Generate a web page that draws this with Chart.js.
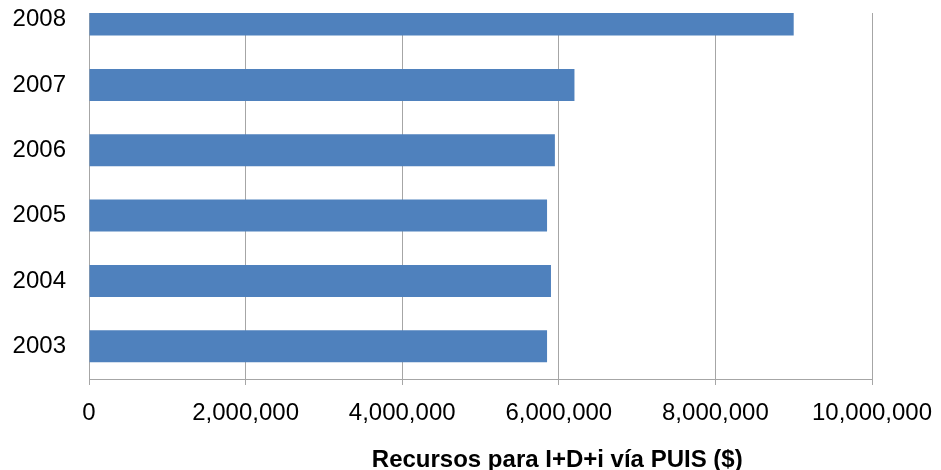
<!DOCTYPE html>
<html>
<head>
<meta charset="utf-8">
<title>Recursos para I+D+i vía PUIS</title>
<script src="https://cdn.jsdelivr.net/npm/chart.js@4/dist/chart.umd.min.js"></script>
<style>
  html, body { margin: 0; padding: 0; background: #fff; }
  #wrap { width: 941px; height: 470px; }
</style>
</head>
<body>
<div id="wrap"><canvas id="chart" width="941" height="470"></canvas></div>
<script>
// datos (de abajo hacia arriba)
const years = ['2003', '2004', '2005', '2006', '2007', '2008'];
const recursos = [5850000, 5900000, 5850000, 5950000, 6200000, 9000000];

const xMin = 0;
const xMax = 10000000;
const xStep = 2000000;
const axisTitle = 'Recursos para I+D+i vía PUIS ($)';

const COLORS = {
    bar: '#4f81bd',
    grid: '#a6a6a6',
    text: '#000000'
};

const FONT = "'Liberation Sans', Arial, sans-serif";

// el titulo del eje no esta centrado en el original, se dibuja aparte
const axisTitlePlugin = {
    id: 'axisTitle',
    afterDraw(chart) {
        const { ctx, chartArea } = chart;
        ctx.save();
        ctx.font = "bold 24px " + FONT;
        ctx.fillStyle = COLORS.text;
        ctx.textAlign = 'center';
        ctx.textBaseline = 'middle';
        ctx.fillText(axisTitle, chartArea.left + 0.598 * (chartArea.right - chartArea.left), 460);
        ctx.restore();
    }
};

new Chart(document.getElementById('chart'), {
    type: 'bar',
    data: {
        datasets: [{
            data: recursos.map((v, i) => ({ x: v, y: i })),
            backgroundColor: COLORS.bar,
            borderWidth: 0,
            barPercentage: 0.49,
            categoryPercentage: 1
        }]
    },
    plugins: [axisTitlePlugin],
    options: {
        indexAxis: 'y',
        responsive: false,
        animation: false,
        layout: { padding: { top: 13, right: 69, left: 11, bottom: 0 } },
        plugins: {
            legend: { display: false },
            tooltip: { enabled: false }
        },
        scales: {
            x: {
                type: 'linear',
                min: xMin,
                max: xMax,
                grid: { color: COLORS.grid, tickLength: 6 },
                border: { color: COLORS.grid },
                ticks: {
                    stepSize: xStep,
                    padding: 14,
                    color: COLORS.text,
                    font: { family: FONT, size: 24 },
                    callback: v => v.toLocaleString('en-US')
                },
                afterFit: s => { s.height = 91; s.paddingLeft = 0; s.paddingRight = 0; }
            },
            y: {
                type: 'linear',
                min: -0.5,
                max: 5.1,
                offset: false,
                grid: { display: false, drawTicks: false, offset: false },
                border: { display: true, color: COLORS.grid },
                ticks: {
                    stepSize: 1,
                    includeBounds: false,
                    padding: 23,
                    color: COLORS.text,
                    font: { family: FONT, size: 24, lineHeight: 1 },
                    callback: v => years[v] ?? ''
                },
                afterFit: s => { s.width = 78; s.paddingTop = 0; s.paddingBottom = 0; }
            }
        }
    }
});
</script>
</body>
</html>
